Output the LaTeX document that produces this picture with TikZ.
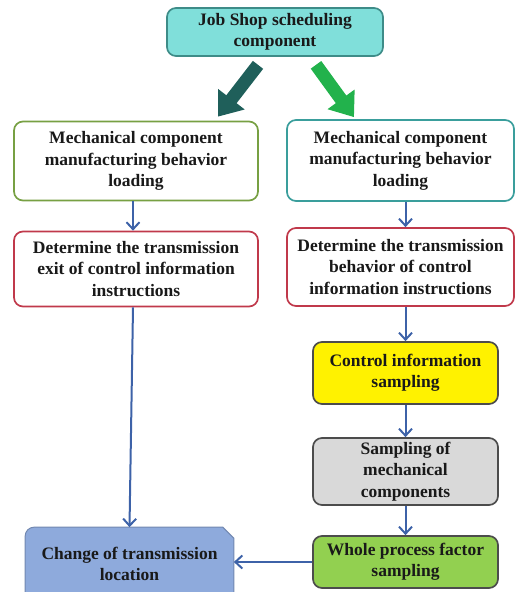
\documentclass[tikz,border=0pt]{standalone}
\usepackage{fontspec}
\setmainfont{Liberation Serif}
\usetikzlibrary{arrows.meta,backgrounds}

\definecolor{jobfill}{HTML}{80DFDA}
\definecolor{jobline}{HTML}{3E8C88}
\definecolor{leftgreen}{HTML}{77A043}
\definecolor{rightteal}{HTML}{3A9E9C}
\definecolor{detred}{HTML}{C0394B}
\definecolor{linkblue}{HTML}{3D62A8}
\definecolor{wholegreen}{HTML}{92D050}
\definecolor{changeblue}{HTML}{8EAADC}
\definecolor{darkteal}{HTML}{1F5F5A}
\definecolor{brightgreen}{HTML}{22B24C}

\begin{document}
\begin{tikzpicture}[x=1pt,y=-1pt,
    box/.style={draw, line width=1.7pt, rounded corners=9pt, align=center,
      inner sep=0pt, text=black!90,
      font=\fontsize{17.5}{21.5}\selectfont\bfseries},
    link/.style={draw=linkblue, line width=2pt,
      -{Straight Barb[length=7pt,width=13pt]}},
    bigarrow/.style={line width=13pt, -{Triangle[length=22pt,width=32pt]}}]
  \useasboundingbox (0,0) rectangle (515,592);

  % top
  \node[box, draw=jobline, fill=jobfill, minimum width=216pt, minimum height=48pt]
    (job) at (275,32) {Job Shop scheduling\\component};

  % left column
  \node[box, draw=leftgreen, minimum width=244pt, minimum height=79pt]
    (mech1) at (136,161) {Mechanical component\\manufacturing behavior\\loading};
  \node[box, draw=detred, minimum width=244pt, minimum height=75pt]
    (det1) at (136,269) {Determine the transmission\\exit of control information\\instructions};
  \node[box, draw=none, minimum width=207pt, minimum height=72pt]
    (change) at (129.5,564) {Change of transmission\\location};

  % right column
  \node[box, draw=rightteal, minimum width=227pt, minimum height=81pt]
    (mech2) at (400.5,160.5) {Mechanical component\\manufacturing behavior\\loading};
  \node[box, draw=detred, minimum width=227pt, minimum height=78pt]
    (det2) at (400.5,267) {Determine the transmission\\behavior of control\\information instructions};
  \node[box, draw=black!70, fill=yellow, minimum width=185pt, minimum height=62pt]
    (ctrl) at (405.5,373) {Control information\\sampling};
  \node[box, draw=black!70, fill=black!15, minimum width=185pt, minimum height=67pt]
    (samp) at (405.5,471.5) {Sampling of\\mechanical\\components};
  \node[box, draw=black!70, fill=wholegreen, minimum width=185pt, minimum height=52pt]
    (whole) at (405.5,562) {Whole process factor\\sampling};

  \begin{scope}[on background layer]
    \draw[line width=1pt, draw=changeblue!80!black, fill=changeblue]
      (change.south west) [rounded corners=9pt] -- (change.north west)
      [sharp corners] -- ([xshift=-11pt]change.north east)
      -- ([yshift=-11pt]change.north east) -- (change.south east);
  \end{scope}

  % block arrows
  \draw[bigarrow, darkteal] ([xshift=-17pt,yshift=-8pt]job.south)
    -- ([xshift=82pt,yshift=4pt]mech1.north);
  \draw[bigarrow, brightgreen] ([xshift=41pt,yshift=-8pt]job.south)
    -- ([xshift=-46.5pt,yshift=2pt]mech2.north);

  % links
  \draw[link] ([xshift=-3pt]mech1.south) -- ([xshift=-3pt]det1.north);
  \draw[link] ([xshift=-3pt]det1.south) -- (change.north);
  \draw[link] (mech2.south -| ctrl) -- (det2.north -| ctrl);
  \draw[link] (det2.south -| ctrl) -- (ctrl.north);
  \draw[link] (ctrl) -- (samp);
  \draw[link] (samp) -- (whole);
  \draw[link] (whole.west) -- (whole.west -| change.east);
\end{tikzpicture}
\end{document}
